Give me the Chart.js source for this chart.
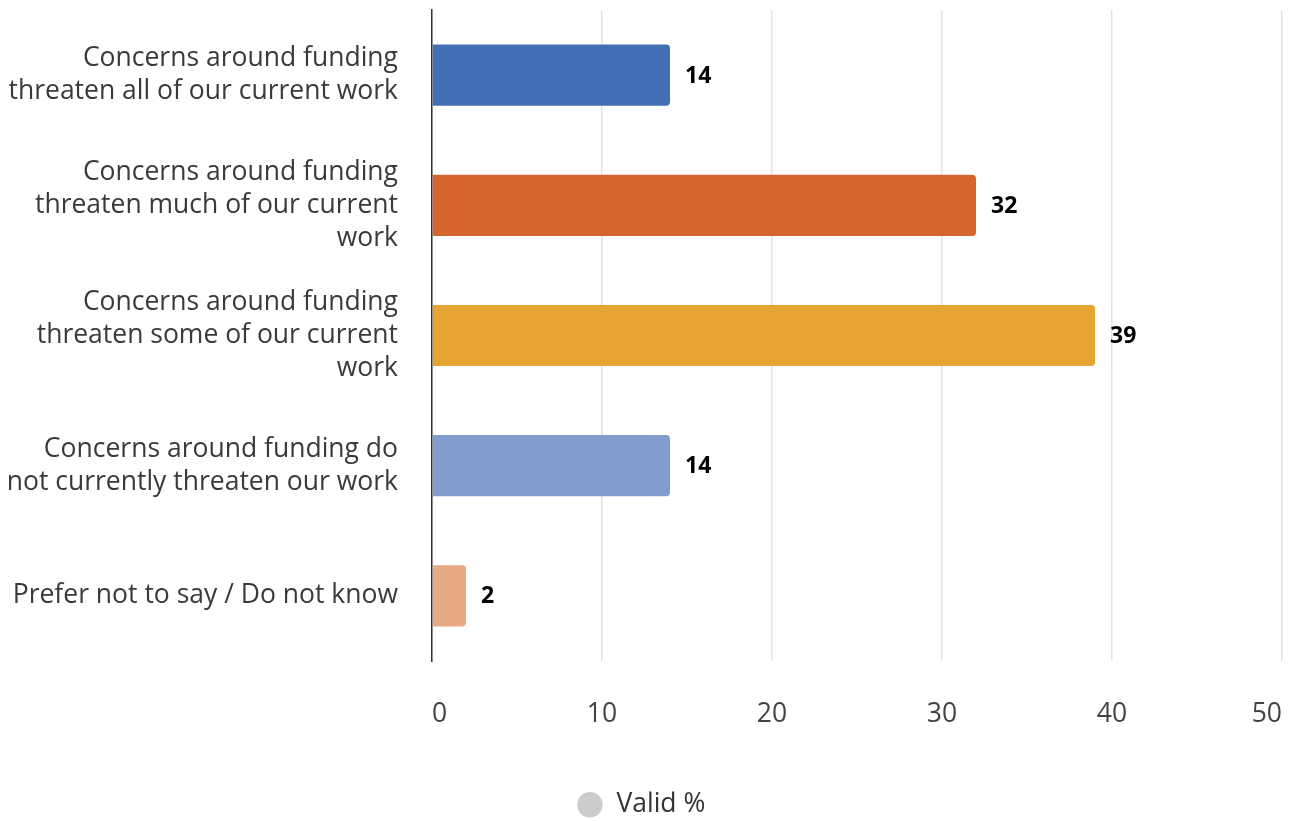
<!DOCTYPE html>
<html>
<head>
<meta charset="utf-8">
<script src="https://cdn.jsdelivr.net/npm/chart.js@4/dist/chart.umd.min.js"></script>
<style>
  html, body { margin: 0; padding: 0; background: #fff; }
  #wrap { width: 1291px; height: 821px; }
</style>
</head>
<body>
<div id="wrap"><canvas id="chart"></canvas></div>
<script>
// Survey answers, wrapped the way they are shown on the axis
const categories = [
  ["Concerns around funding", "threaten all of our current work"],
  ["Concerns around funding", "threaten much of our current", "work"],
  ["Concerns around funding", "threaten some of our current", "work"],
  ["Concerns around funding do", "not currently threaten our work"],
  "Prefer not to say / Do not know",
];
const validPct = [14, 32, 39, 14, 2];
const barColors = ["#456fb5", "#d6642d", "#e6a433", "#829dcd", "#e8aa84"];
const seriesName = "Valid %";

const FONT = "'Open Sans', 'Noto Sans', sans-serif";
const TEXT_SIZE = 26.5;

// Write the value just past the end of each bar
const valueLabels = {
  id: "valueLabels",
  afterDatasetsDraw(chart) {
    const ctx = chart.ctx;
    const meta = chart.getDatasetMeta(0);
    ctx.save();
    ctx.font = "bold 23px " + FONT;
    ctx.fillStyle = "#000";
    ctx.textAlign = "left";
    ctx.textBaseline = "middle";
    meta.data.forEach((bar, i) => {
      ctx.fillText(String(validPct[i]), bar.x + 15, bar.y + 1);
    });
    ctx.restore();
  },
};

// drop the automatic label padding so the plot area keeps its fixed box
function noScalePadding(scale) {
  scale.paddingTop = 0;
  scale.paddingBottom = 0;
  scale.paddingLeft = 0;
  scale.paddingRight = 0;
}

new Chart(document.getElementById("chart"), {
  type: "bar",
  data: {
    labels: categories,
    datasets: [
      {
        label: seriesName,
        data: validPct,
        backgroundColor: barColors,
        borderRadius: 4,
        borderSkipped: "start",
        barPercentage: 0.47,
        categoryPercentage: 1,
      },
    ],
  },
  options: {
    indexAxis: "y",
    responsive: true,
    maintainAspectRatio: false,
    animation: false,
    layout: { padding: { top: 10, right: 9, left: 0, bottom: -7 } },
    plugins: {
      tooltip: { enabled: false },
      legend: {
        position: "bottom",
        labels: {
          font: { family: FONT, size: TEXT_SIZE },
          color: "#333",
          usePointStyle: true,
          pointStyle: "circle",
          boxWidth: 30,
          boxHeight: 18,
          padding: 0,
          generateLabels: () => [
            {
              text: seriesName,
              fillStyle: "#cccccc",
              strokeStyle: "#cccccc",
              lineWidth: 0,
              pointStyle: "circle",
              datasetIndex: 0,
              fontColor: "#333",
            },
          ],
        },
      },
    },
    scales: {
      x: {
        min: 0,
        max: 50,
        ticks: {
          stepSize: 10,
          padding: 38,
          align: "inner",
          color: "#444",
          font: { family: FONT, size: TEXT_SIZE },
        },
        grid: { color: "#e3e3e3", lineWidth: 1.5, drawTicks: false },
        border: { display: false },
        afterFit(scale) {
          noScalePadding(scale);
          scale.height = 130.5;
        },
      },
      y: {
        ticks: {
          padding: 34,
          color: "#3a3a3a",
          font: { family: FONT, size: TEXT_SIZE, lineHeight: 1.245 },
        },
        grid: { display: false, drawTicks: false },
        border: { display: true, color: "#333", width: 1.5 },
        afterFit(scale) {
          noScalePadding(scale);
          scale.width = 432;
        },
      },
    },
  },
  plugins: [valueLabels],
});
</script>
</body>
</html>
